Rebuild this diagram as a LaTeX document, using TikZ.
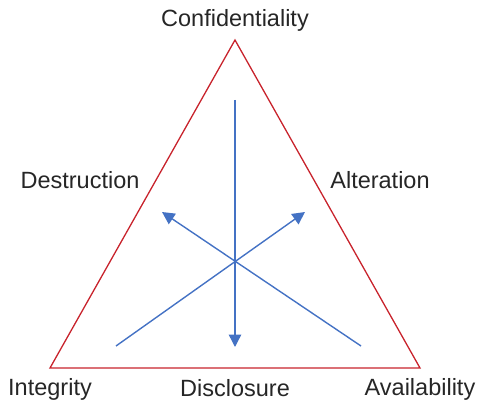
\documentclass[tikz,border=0pt]{standalone}
\usepackage{fontspec}
\setmainfont{Liberation Sans}
\usetikzlibrary{arrows.meta}
\definecolor{triRed}{HTML}{C8232C}
\definecolor{flowBlue}{HTML}{4472C4}
\begin{document}
\begin{tikzpicture}[x=1pt,y=-1pt,
  edge/.style={draw=triRed, line width=1.3pt, line join=miter},
  flow/.style={draw=flowBlue, line width=1.4pt, -{Triangle[length=12.5pt,width=12.5pt]}},
  lbl/.style={anchor=base, font=\fontsize{23.5}{28}\selectfont, inner sep=0pt, text=black!85}]
\useasboundingbox (0,0) rectangle (477,401);

% triangle corners
\coordinate (top) at (235,40);
\coordinate (bl) at (50,368);
\coordinate (br) at (420,368);
\draw[edge] (top) -- (bl) -- (br) -- cycle;

% arrow ends
\coordinate (vStart) at (235,100);
\coordinate (vEnd) at (235,347);
\coordinate (lStart) at (116,346);
\coordinate (lEnd) at (305,212);
\coordinate (rStart) at (361,346);
\coordinate (rEnd) at (162,212);
\draw[flow] (vStart) -- (vEnd);
\draw[flow] (lStart) -- (lEnd);
\draw[flow] (rStart) -- (rEnd);

% labels
\node[lbl] (conf) at (235,27) {Confidentiality};
\node[lbl] (destr) at (80,189) {Destruction};
\node[lbl] (alter) at (380,189) {Alteration};
\node[lbl] (integ) at (50,395) {Integrity};
\node[lbl] (discl) at (235,396) {Disclosure};
\node[lbl] (avail) at (420,395) {Availability};
\end{tikzpicture}
\end{document}
